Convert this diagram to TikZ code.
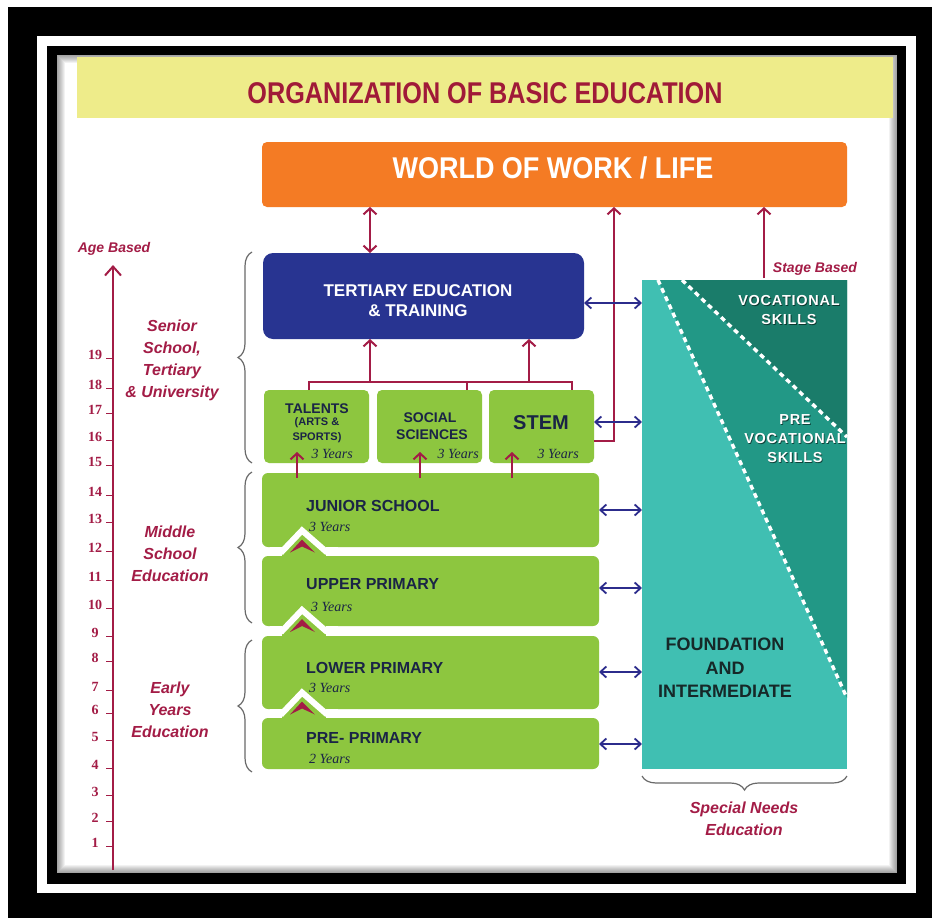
\documentclass[tikz,border=0pt]{standalone}
\usepackage{fontspec}
\setmainfont{Liberation Sans}
\newfontfamily\tms{Liberation Serif}
\usetikzlibrary{arrows.meta,decorations.pathreplacing,calc}
\definecolor{crim}{RGB}{163,28,70}
\definecolor{titlered}{RGB}{160,26,56}
\definecolor{titlebg}{RGB}{238,236,138}
\definecolor{orng}{RGB}{244,123,36}
\definecolor{tblue}{RGB}{40,52,145}
\definecolor{lgreen}{RGB}{141,198,63}
\definecolor{navyT}{RGB}{26,36,70}
\definecolor{navyA}{RGB}{44,44,140}
\definecolor{tealL}{RGB}{64,191,178}
\definecolor{tealM}{RGB}{34,152,134}
\definecolor{tealD}{RGB}{26,124,106}
\definecolor{fdark}{RGB}{22,40,40}
\definecolor{brgray}{RGB}{105,105,105}
\newcommand\gapchev[2]{%
  \pgfmathsetmacro\gcc{(#1+#2)/2}%
  \fill[lgreen] (276,\gcc-6) rectangle (334,\gcc+6);
  \draw[white, line width=6pt, miter limit=10] (270,\gcc) -- (282,\gcc) -- (302,\gcc-21) -- (326,\gcc) -- (338,\gcc);
  \fill[white] (270,#1) rectangle (282,#2);
  \fill[white] (326,#1) rectangle (338,#2);
  \fill[crim] (290,\gcc+1) -- (302,\gcc-12) -- (315,\gcc+1) -- (302,\gcc-5) -- cycle;
}
\begin{document}
\begin{tikzpicture}[x=1pt,y=-1pt,
  box/.style={anchor=north west, inner sep=0pt, outer sep=0pt, draw=none},
  gbox/.style={box, fill=lgreen, rounded corners=6pt},
  rline/.style={draw=crim, line width=2pt},
  rarr/.style={rline, -{Straight Barb[length=6pt,width=13pt]}},
  rdarr/.style={rline, {Straight Barb[length=6pt,width=13pt]}-{Straight Barb[length=6pt,width=13pt]}},
  barr/.style={draw=navyA, line width=1.8pt, {Straight Barb[length=6pt,width=11pt]}-{Straight Barb[length=6pt,width=11pt]}},
  brc/.style={decorate, decoration={brace, amplitude=14pt}, draw=brgray, line width=1.2pt},
  btxt/.style={text=navyT, inner sep=0pt, font=\bfseries\fontsize{16}{18}\selectfont},
  yrs/.style={text=navyT, inner sep=0pt, font=\tms\itshape\fontsize{14}{14}\selectfont},
  clbl/.style={text=crim, align=center, inner sep=0pt, font=\bfseries\itshape\fontsize{16}{22}\selectfont},
  num/.style={text=crim, inner sep=0pt, font=\tms\bfseries\fontsize{14}{14}\selectfont},
  vtxt/.style={text=white, align=center, inner sep=0pt, font=\bfseries\fontsize{14.5}{19}\selectfont\addfontfeature{LetterSpace=5}},
  vsh/.style={text=black, opacity=0.55, align=center, inner sep=0pt, font=\bfseries\fontsize{14.5}{19}\selectfont\addfontfeature{LetterSpace=5}}
]
\useasboundingbox (0,0) rectangle (932,918);
% frame
\fill[white] (0,0) rectangle (932,918);
\fill[black] (8,7) rectangle (932,918);
\fill[white] (37,36) rectangle (916,893);
\fill[black] (47,46) rectangle (906,884);
\fill[white] (57,55) rectangle (897,873);
\foreach \i in {1,...,8}{
  \pgfmathsetmacro\lw{2*\i}
  \draw[black, opacity=0.05, line width=\lw pt] (57,55) rectangle (897,873);
}
% title bar
\fill[fill=titlebg] (77,57) rectangle (893,118);
\node[text=titlered, inner sep=0pt] (title) at (485,93)
  {\scalebox{0.84}[1]{\bfseries\fontsize{30}{30}\selectfont ORGANIZATION OF BASIC EDUCATION}};

% world of work
\node[box, fill=orng, rounded corners=5pt, minimum width=585pt, minimum height=65pt] (work) at (262,142) {};
\node[text=white, inner sep=0pt] (worktxt) at (553,168)
  {\scalebox{0.9}[1]{\bfseries\fontsize{30}{30}\selectfont WORLD OF WORK / LIFE}};

% tertiary
\node[box, fill=tblue, rounded corners=10pt, minimum width=321pt, minimum height=86pt] (tert) at (263,253) {};
\node[text=white, align=center, inner sep=0pt, font=\bfseries\fontsize{17}{20}\selectfont] (terttxt) at (418,301)
  {TERTIARY EDUCATION\\\& TRAINING};

% senior pathways
\node[gbox, rounded corners=5pt, minimum width=105pt, minimum height=73pt] (talents) at (264,390) {};
\node[gbox, rounded corners=5pt, minimum width=105pt, minimum height=73pt] (social) at (377,390) {};
\node[gbox, rounded corners=5pt, minimum width=105pt, minimum height=73pt] (stem) at (489,390) {};

% lower boxes
\node[gbox, minimum width=337pt, minimum height=74pt] (junior) at (262,473) {};
\node[gbox, minimum width=337pt, minimum height=70pt] (upper) at (262,556) {};
\node[gbox, minimum width=337pt, minimum height=73pt] (lower) at (262,636) {};
\node[gbox, minimum width=337pt, minimum height=51pt] (pre) at (262,718) {};
\gapchev{547}{556}
\gapchev{626}{636}
\gapchev{709}{718}

% box texts
\node[btxt, font=\bfseries\fontsize{14}{15}\selectfont] (t1) at (317,409) {TALENTS};
\node[btxt, font=\bfseries\fontsize{11}{12}\selectfont] (t2) at (317,423) {(ARTS \&};
\node[btxt, font=\bfseries\fontsize{11}{12}\selectfont] (t3) at (317,438) {SPORTS)};
\node[yrs, anchor=east] (t4) at (353,454) {3 Years};
\node[btxt, font=\bfseries\fontsize{14}{15}\selectfont] (s1) at (430,418) {SOCIAL};
\node[btxt, font=\bfseries\fontsize{14}{15}\selectfont] (s2) at (432,435) {SCIENCES};
\node[yrs, anchor=east] (s3) at (479,454) {3 Years};
\node[btxt, font=\bfseries\fontsize{20}{20}\selectfont] (m1) at (541,423) {STEM};
\node[yrs, anchor=east] (m2) at (579,454) {3 Years};

\node[btxt, anchor=west] (j1) at (306,506) {JUNIOR SCHOOL};
\node[yrs, anchor=west] (j2) at (309,527) {3 Years};
\node[btxt, anchor=west] (u1) at (306,584) {UPPER PRIMARY};
\node[yrs, anchor=west] (u2) at (311,607) {3 Years};
\node[btxt, anchor=west] (l1) at (306,668) {LOWER PRIMARY};
\node[yrs, anchor=west] (l2) at (309,688) {3 Years};
\node[btxt, anchor=west] (p1) at (306,738) {PRE- PRIMARY};
\node[yrs, anchor=west] (p2) at (309,759) {2 Years};

% teal panel
\node[box, fill=tealL, minimum width=205pt, minimum height=489pt] (panel) at (642,280) {};
\fill[tealM] (658,280) -- (847,280) -- (847,698) -- cycle;
\fill[tealD] (682,280) -- (847,280) -- (847,437) -- cycle;
\draw[white, line width=3.4pt, dash pattern=on 5pt off 4pt] (658,280) -- (847,698);
\draw[white, line width=3.4pt, dash pattern=on 5pt off 4pt] (682,280) -- (847,437);
\node[vsh] at (789.8,310.8) {VOCATIONAL\\SKILLS};
\node[vtxt] (voc) at (789,310) {VOCATIONAL\\SKILLS};
\node[vsh] at (795.8,439.8) {PRE\\VOCATIONAL\\SKILLS};
\node[vtxt] (prevoc) at (795,439) {PRE\\VOCATIONAL\\SKILLS};
\node[text=fdark, align=center, inner sep=0pt, font=\bfseries\fontsize{18}{23.5}\selectfont] (found) at (725,668)
  {FOUNDATION\\AND\\INTERMEDIATE};

% connectors (red)
\draw[rdarr] (370,0 |- tert.north) -- (370,0 |- work.south);
\draw[rline] (309,0 |- talents.north) -- (309,382) -- (572,382) -- (572,0 |- stem.north);
\draw[rline] (467,0 |- social.north) -- (467,382);
\draw[rarr] (370,382) -- (370,0 |- tert.south);
\draw[rarr] (529,382) -- (529,0 |- tert.south);
\draw[rarr] (stem.east |- 0,441) -- (614,441) -- (614,0 |- work.south);
\draw[rarr] (764,278) -- (764,0 |- work.south);
\draw[rarr] ($(297,0 |- junior.north)+(0,5)$) -- ($(297,0 |- talents.south)+(0,-11)$);
\draw[rarr] ($(420,0 |- junior.north)+(0,5)$) -- ($(420,0 |- social.south)+(0,-11)$);
\draw[rarr] ($(512,0 |- junior.north)+(0,5)$) -- ($(512,0 |- stem.south)+(0,-11)$);

% connectors (blue)
\draw[barr] (tert.east |- 0,303) -- (panel.west |- 0,303);
\draw[barr] (stem.east |- 0,422) -- (panel.west |- 0,422);
\draw[barr] (junior.east |- 0,510) -- (panel.west |- 0,510);
\draw[barr] (upper.east |- 0,588) -- (panel.west |- 0,588);
\draw[barr] (lower.east |- 0,672) -- (panel.west |- 0,672);
\draw[barr] (pre.east |- 0,744) -- (panel.west |- 0,744);

% braces
\draw[brc] (252,463) -- (252,252);
\draw[brc] (252,623) -- (252,472);
\draw[brc] (252,772) -- (252,640);
\draw[brc] (847,776) -- (642,776);

% labels
\node[clbl] (senior) at (172,360) {Senior\\School,\\Tertiary\\\& University};
\node[clbl] (middle) at (170,554) {Middle\\School\\Education};
\node[clbl] (early) at (170,710) {Early\\Years\\Education};
\node[clbl, font=\bfseries\itshape\fontsize{14}{16}\selectfont] (age) at (114,249) {Age Based};
\node[clbl, font=\bfseries\itshape\fontsize{14}{16}\selectfont] (stage) at (815,269) {Stage Based};
\node[clbl] (sne) at (744,819) {Special Needs\\Education};

% age axis
\draw[rline, -{Straight Barb[length=9pt,width=16pt]}] (113,870) -- (113,265);
\foreach \n/\yy in {1/843,2/818,3/792,4/765,5/737,6/710,7/687,8/658,9/633,10/605,11/577,12/548,13/519,14/492,15/462,16/437,17/410,18/385,19/355}{
  \node[num] at (95,\yy) {\n};
  \draw[crim, line width=1.5pt] (106,\yy+3.5) -- (113,\yy+3.5);
}
\end{tikzpicture}
\end{document}
